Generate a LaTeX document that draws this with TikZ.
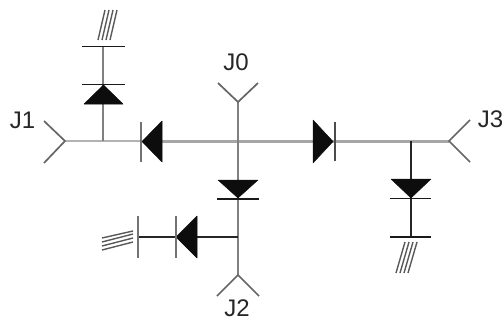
\documentclass[tikz,border=0pt]{standalone}
\usepackage{fontspec}
\setmainfont{Liberation Sans}
\begin{document}
\begin{tikzpicture}[x=1pt,y=-1pt,
  wire/.style={line width=2pt,draw=black!50},
  busline/.style={line width=3pt,draw=black!35},
  lightwire/.style={line width=2.2pt,draw=black!30},
  darkwire/.style={line width=1.7pt,draw=black!85},
  arm/.style={line width=1.7pt,draw=black!60},
  bar/.style={line width=1.7pt,draw=black!90},
  graybar/.style={line width=1.8pt,draw=black!55},
  hatch/.style={line width=1.4pt,draw=black!65},
  tri/.style={fill=black!95,draw=black!95,line width=0.5pt,line join=round},
  lbl/.style={font=\fontsize{24}{24}\selectfont,inner sep=0pt,text=black!85}]
\useasboundingbox (0,0) rectangle (502,321);
% junctions
\coordinate (j1) at (65,141);
\coordinate (j3) at (449,141);
\coordinate (j0) at (238,102);
\coordinate (j2) at (238,275);
\coordinate (c) at (238,141);
\coordinate (t1) at (103,141);
\coordinate (t3) at (411,141);
\coordinate (t2) at (238,237);
\coordinate (g1) at (103,46);
\coordinate (g3) at (411,237);
\coordinate (g2) at (138,237);
\coordinate (d1) at (141,141);
\coordinate (d2) at (162,141);
% wires
\draw[lightwire] (j1) -- (t1);
\draw[lightwire] (t1) -- (d1);
\draw[busline] (d2) -- (c);
\draw[busline] (c) -- (t3);
\draw[busline] (t3) -- (j3);
\draw[wire] (t1) -- (g1);
\draw[wire] (j0) -- (c);
\draw[wire] (c) -- (t2);
\draw[wire] (t2) -- (j2);
\draw[darkwire] (t3) -- (g3);
\draw[darkwire] (t2) -- (g2);
% connector arms
\draw[arm] (44,121) -- (j1) -- (44,163);
\draw[arm] (470,120) -- (j3) -- (470,162);
\draw[arm] (218,83) -- (j0) -- (258,83);
\draw[arm] (217,296) -- (j2) -- (259,296);
% diodes
\draw[tri] (84,104) -- (123,104) -- (103.5,85) -- cycle;
\draw[bar] (82,84.5) -- (125,84.5);
\draw[tri] (162,121) -- (162,162) -- (142,141.5) -- cycle;
\draw[graybar] (141,122) -- (141,162);
\draw[tri] (313,120) -- (313,163) -- (333,141.5) -- cycle;
\draw[graybar,draw=black!70] (335,122) -- (335,161);
\draw[tri] (391,179) -- (431,179) -- (411,198) -- cycle;
\draw[bar] (390,198.5) -- (431,198.5);
\draw[tri] (218,180) -- (258,180) -- (238,198) -- cycle;
\draw[bar] (217,199) -- (259,199);
\draw[tri] (197,216) -- (197,258) -- (176,237) -- cycle;
\draw[graybar] (176,216) -- (176,258);
% ground bars
\draw[bar] (82,46.5) -- (125,46.5);
\draw[bar] (390,236.7) -- (431,236.7);
\draw[graybar] (138,216) -- (138,258);
% hatches
\draw[hatch] (98,40) -- (105,10) (102,40) -- (109,10) (106,40) -- (113,10) (110,40) -- (117,10);
\draw[hatch] (396,273) -- (405,242) (400,273) -- (409,242) (404,273) -- (413,242) (408,273) -- (417,242);
\draw[hatch] (102,250) -- (133,242) (102,246) -- (133,238) (102,242) -- (133,234) (102,238) -- (133,231);
% labels
\node[lbl] (l0) at (236,62.5) {J0};
\node[lbl] (l1) at (22.5,120.5) {J1};
\node[lbl] (l3) at (490.5,119) {J3};
\node[lbl] (l2) at (237,308.5) {J2};
\end{tikzpicture}
\end{document}
